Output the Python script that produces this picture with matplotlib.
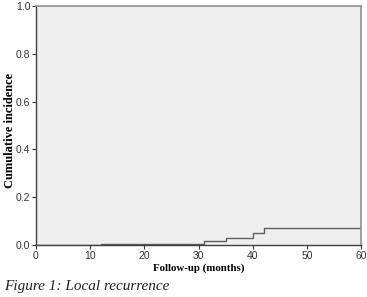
import matplotlib
matplotlib.use("Agg")
import matplotlib.pyplot as plt

# step function data (months, cumulative incidence)
times = [0, 12, 31, 35, 40, 42, 60]
incidence = [0.0, 0.006, 0.017, 0.03, 0.049, 0.07, 0.07]

x_ticks = [0, 10, 20, 30, 40, 50, 60]
y_ticks = [0.0, 0.2, 0.4, 0.6, 0.8, 1.0]

plt.rcParams['font.family'] = ['Liberation Serif', 'DejaVu Serif']

fig = plt.figure(figsize=(3.67, 2.97), dpi=100)
ax = fig.add_axes([0.098, 0.175, 0.886, 0.805])
ax.set_facecolor('#efefef')

ax.step(times, incidence, where='post', color='#606060', linewidth=1.0)

ax.set_xlim(0, 60)
ax.set_ylim(0, 1.0)
ax.set_xticks(x_ticks)
ax.set_xticklabels([str(t) for t in x_ticks])
ax.set_yticks(y_ticks)
ax.set_yticklabels([f"{t:.1f}" for t in y_ticks])
ax.tick_params(axis='both', labelsize=7.5, length=3, width=0.8, pad=1, colors='#333333')
for lbl in ax.get_xticklabels() + ax.get_yticklabels():
    lbl.set_family(['Liberation Sans', 'DejaVu Sans'])

for s in ['top', 'right']:
    ax.spines[s].set_color('#909090')
    ax.spines[s].set_linewidth(1.2)
for s in ['left', 'bottom']:
    ax.spines[s].set_color('#404040')
    ax.spines[s].set_linewidth(1.0)

ax.set_xlabel('Follow-up (months)', fontsize=7.8, fontweight='bold', labelpad=2)
ax.set_ylabel('Cumulative incidence', fontsize=9, fontweight='bold')
ax.yaxis.set_label_coords(-0.062, 0.48)

fig.text(0.012, 0.025, 'Figure 1: Local recurrence', fontsize=11, style='italic',
         color='#222222')

fig.savefig('out.png', dpi=100)
